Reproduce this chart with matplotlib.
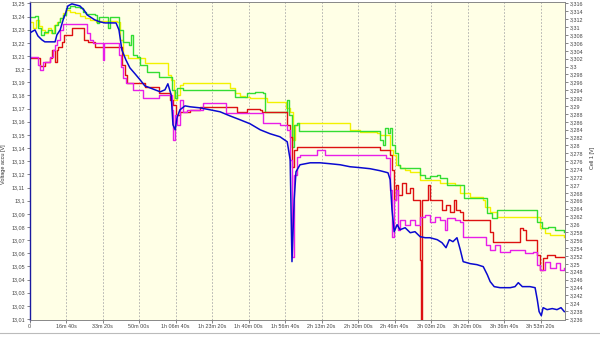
import matplotlib
matplotlib.use("Agg")
import matplotlib.pyplot as plt
from matplotlib.ticker import FixedLocator, FuncFormatter
import numpy as np

plt.rcParams["font.family"] = ["Liberation Sans", "DejaVu Sans"]

# ---- data (time in seconds, voltages in V) ----
accu_t = [10,150,230,340,420,560,700,750,840,920,1000,1050,1160,1270,1380,1490,1580,1660,1790,1930,
          2070,2210,2370,2450,2530,2640,2750,2890,3030,3160,3300,3440,3580,3710,3790,3880,3930,3990,4040,4120,
          4260,4400,4670,4950,5220,5490,5770,6040,6320,6590,6860,7060,7140,7190,7250,7300,7410,7690,7960,8230,
          8510,8780,9060,9330,9600,9820,9880,9930,9990,10070,10150,10290,10430,10560,10700,10840,10970,11170,11300,11410,
          11500,11600,11710,11800,11880,12070,12260,12430,12540,12620,12730,12890,13170,13300,13390,13500,13710,13850,13910,13960,
          14020,14070,14180,14320,14450,14560,14650]
accu_v = [13.2276,13.2299,13.2253,13.2223,13.2208,13.2208,13.2208,13.2261,13.2299,13.2375,13.2436,13.2481,13.2497,13.2489,13.2481,13.2451,13.2413,13.2398,13.2375,13.2360,
          13.2352,13.2352,13.2352,13.2299,13.2147,13.2071,13.2010,13.1965,13.1919,13.1873,13.1858,13.1843,13.1828,13.1843,13.1889,13.1805,13.1577,13.1539,13.1630,13.1691,
          13.1721,13.1714,13.1706,13.1691,13.1676,13.1645,13.1615,13.1585,13.1539,13.1509,13.1486,13.1448,13.1311,13.0536,13.1007,13.1220,13.1273,13.1288,13.1288,13.1281,
          13.1273,13.1258,13.1251,13.1243,13.1228,13.1212,13.1159,13.0931,13.0764,13.0817,13.0779,13.0794,13.0756,13.0764,13.0726,13.0718,13.0718,13.0703,13.0680,13.0642,
          13.0703,13.0688,13.0718,13.0627,13.0536,13.0521,13.0513,13.0498,13.0437,13.0384,13.0346,13.0338,13.0338,13.0346,13.0376,13.0346,13.0346,13.0338,13.0247,13.0156,
          13.0125,13.0186,13.0171,13.0179,13.0171,13.0186,13.0156]

yellow_t = [10,100,180,260,340,420,510,590,670,750,840,920,1000,1110,1250,1380,1520,1660,1820,1930,
            2400,2480,2560,2700,3110,3160,3740,3790,3880,3960,4040,4120,4210,5380,5490,5630,5770,5900,6040,6450,
            6510,6950,7030,7140,7220,7280,7360,8700,8780,9060,9520,9600,9820,9880,9960,10040,10150,10290,10430,10700,
            11170,11250,11660,11800,12070,12430,12480,12620,12810,13910,13990,14120,14260,14650]
yellow_v = [3.3113,3.3098,3.3118,3.3103,3.3093,3.3085,3.3098,3.3085,3.3106,3.3113,3.3123,3.3136,3.3144,3.3138,3.3136,3.3128,3.3123,3.3118,3.3113,3.3116,
            3.3113,3.3068,3.3029,3.3022,3.3022,3.3009,3.3009,3.2979,3.2966,3.2915,3.2928,3.2953,3.2958,3.2958,3.2946,3.2933,3.2925,3.2923,3.2920,3.2920,
            3.2910,3.2910,3.2895,3.2885,3.2814,3.2852,3.2857,3.2857,3.2839,3.2834,3.2832,3.2827,3.2827,3.2789,3.2776,3.2751,3.2743,3.2738,3.2733,3.2712,
            3.2712,3.2705,3.2700,3.2680,3.2669,3.2662,3.2644,3.2631,3.2619,3.2619,3.2591,3.2578,3.2573,3.2568]

green_t = [10,150,230,320,400,510,620,700,780,840,920,1000,1110,1250,1380,1470,1550,1790,1850,1900,
           2100,2150,2210,2400,2450,2560,2670,2730,2780,2840,2950,3030,3160,3220,3490,3550,3850,3900,3990,4040,
           4210,5580,5630,5900,5960,6180,6400,6450,7000,7060,7110,7190,7250,7330,7380,9520,9600,9690,9740,9820,
           9880,9930,10010,10100,10150,10430,10700,10840,10970,11170,11250,11440,11850,11910,12430,12540,12670,12810,13800,13910,
           14040,14210,14400,14650]
green_v = [3.3126,3.3128,3.3098,3.3080,3.3088,3.3093,3.3085,3.3106,3.3113,3.3123,3.3131,3.3149,3.3154,3.3151,3.3149,3.3138,3.3133,3.3131,3.3111,3.3126,
           3.3126,3.3098,3.3126,3.3126,3.3093,3.3062,3.3062,3.3055,3.3080,3.3029,3.3024,3.3004,3.3004,3.2986,3.2986,3.2974,3.2974,3.2941,3.2920,3.2946,
           3.2941,3.2941,3.2923,3.2923,3.2933,3.2936,3.2933,3.2885,3.2885,3.2915,3.2877,3.2796,3.2852,3.2857,3.2837,3.2837,3.2814,3.2801,3.2844,3.2832,
           3.2844,3.2801,3.2781,3.2751,3.2743,3.2743,3.2725,3.2718,3.2723,3.2725,3.2718,3.2700,3.2700,3.2667,3.2667,3.2629,3.2616,3.2636,3.2636,3.2606,
           3.2591,3.2593,3.2586,3.2581]

red_t = [10,210,290,420,560,620,700,750,780,890,950,1110,1160,1440,1490,1600,1770,1790,2480,2530,
         2620,2670,3110,3160,3490,3550,3770,3850,3930,4010,4120,4400,4670,5580,5690,5900,5960,6320,6370,6950,
         7060,7140,7190,7250,7330,9520,9600,9820,9880,9930,9990,10040,10100,10210,10320,10430,10510,10670,10700,10730,
         10750,10840,10920,10970,11250,11300,11410,11520,11630,11690,11800,11880,12560,12620,12700,12810,13300,13440,13520,13600,
         13800,13910,13990,14070,14180,14400,14650]
red_v = [3.3022,3.3022,3.3002,3.3012,3.3022,3.3042,3.3012,3.3042,3.3050,3.3062,3.3080,3.3080,3.3098,3.3098,3.3068,3.3062,3.3062,3.3050,3.3050,3.3004,
         3.2979,3.2958,3.2958,3.2948,3.2948,3.2933,3.2933,3.2915,3.2903,3.2877,3.2885,3.2890,3.2898,3.2898,3.2885,3.2885,3.2893,3.2890,3.2885,3.2885,
         3.2852,3.2822,3.2745,3.2789,3.2796,3.2796,3.2789,3.2789,3.2776,3.2738,3.2662,3.2700,3.2674,3.2705,3.2680,3.2692,3.2662,3.2662,3.2510,3.2332,
         3.2662,3.2662,3.2700,3.2662,3.2662,3.2636,3.2649,3.2631,3.2662,3.2636,3.2631,3.2611,3.2611,3.2581,3.2555,3.2555,3.2555,3.2591,3.2586,3.2560,
         3.2560,3.2522,3.2484,3.2515,3.2522,3.2517,3.2517]

magenta_t = [10,210,230,290,370,510,560,640,700,750,840,920,1520,1580,1660,1740,1990,2010,2040,2400,
             2450,2510,2560,2640,2840,3110,3490,3550,3850,3900,3930,3990,4040,4120,4210,4320,4670,4750,5300,5380,
             6320,6400,6780,6860,7060,7140,7190,7250,7330,7410,7820,7880,8040,8100,9690,9770,9820,9880,9930,9990,
             10040,10100,10150,10290,10430,10560,10700,10840,10970,11110,11250,11390,11440,11660,11800,11880,12430,12510,12620,12750,
             12890,13170,13440,13580,13800,13910,13990,14120,14260,14430,14540,14650]
magenta_v = [3.3024,3.3024,3.3004,3.2991,3.3012,3.3012,3.3024,3.3042,3.3055,3.3068,3.3093,3.3108,3.3108,3.3085,3.3068,3.3060,3.3060,3.3017,3.3060,3.3060,
             3.3029,3.2999,3.2971,3.2958,3.2941,3.2920,3.2920,3.2928,3.2928,3.2890,3.2814,3.2877,3.2852,3.2915,3.2885,3.2890,3.2890,3.2908,3.2908,3.2882,
             3.2882,3.2857,3.2857,3.2852,3.2839,3.2763,3.2517,3.2725,3.2771,3.2776,3.2776,3.2789,3.2789,3.2776,3.2776,3.2768,3.2768,3.2687,3.2568,3.2662,
             3.2687,3.2586,3.2611,3.2598,3.2611,3.2598,3.2619,3.2624,3.2606,3.2619,3.2611,3.2586,3.2616,3.2611,3.2606,3.2568,3.2568,3.2548,3.2535,3.2548,
             3.2530,3.2535,3.2535,3.2527,3.2530,3.2497,3.2484,3.2505,3.2489,3.2502,3.2484,3.2489]

x_ticks = [0,1000,2000,3000,4000,5000,6000,7000,8000,9000,10000,11000,12000,13000,14000]
left_ticks = [13.01,13.02,13.03,13.04,13.05,13.06,13.07,13.08,13.09,13.1,13.11,13.12,13.13,
              13.14,13.15,13.16,13.17,13.18,13.19,13.2,13.21,13.22,13.23,13.24,13.25]
right_ticks = [3.236,3.238,3.24,3.242,3.244,3.246,3.248,3.25,3.252,3.254,3.256,3.258,3.26,3.262,
               3.264,3.266,3.268,3.27,3.272,3.274,3.276,3.278,3.28,3.282,3.284,3.286,3.288,3.29,
               3.292,3.294,3.296,3.298,3.3,3.302,3.304,3.306,3.308,3.31,3.312,3.314,3.316]

# ---- figure ----
fig = plt.figure(figsize=(6.0, 3.37), dpi=100)
ax2 = fig.add_axes([0.0492, 0.0504, 0.8925, 0.9436])
ax = ax2.twinx()
ax.yaxis.tick_left(); ax.yaxis.set_label_position("left")
ax2.yaxis.tick_right(); ax2.yaxis.set_label_position("right")
ax2.set_facecolor("#ffffe6")
ax.patch.set_visible(False)

for t, v, c in [(yellow_t, yellow_v, "#f2f200"), (green_t, green_v, "#33dd33"),
                (red_t, red_v, "#dd1111"), (magenta_t, magenta_v, "#e81ee8")]:
    ax2.plot(t, v, color=c, lw=1.0, drawstyle="steps-post")
ax.plot(accu_t, accu_v, color="#0a0ad0", lw=1.1)

ax.set_xlim(0, 14670)
ax.set_ylim(13.0092, 13.2511)
ax2.set_ylim(3.23575, 3.31637)

def fmt_time(s, pos=None):
    s = int(round(s))
    if s == 0:
        return "0"
    h, r = divmod(s, 3600)
    m, sec = divmod(r, 60)
    if h:
        return f"{h}h {m:02d}m {sec:02d}s"
    return f"{m}m {sec:02d}s"

def fmt_comma(v, pos=None):
    return f"{v:.3f}".rstrip("0").rstrip(".").replace(".", ",")

ax2.xaxis.set_major_locator(FixedLocator(x_ticks))
ax2.xaxis.set_major_formatter(FuncFormatter(fmt_time))
ax.yaxis.set_major_locator(FixedLocator(left_ticks))
ax.yaxis.set_major_formatter(FuncFormatter(fmt_comma))
ax2.yaxis.set_major_locator(FixedLocator(right_ticks))
ax2.yaxis.set_major_formatter(FuncFormatter(fmt_comma))

for a in (ax, ax2):
    a.tick_params(labelsize=3.9, labelcolor="#444444", length=2, width=0.5, color="#555555", pad=1.2)
ax2.xaxis.grid(True, linestyle=(0, (2, 2)), color="#aaaaaa", lw=0.6)

ax.set_ylabel("Voltage accu [V]", fontsize=4.0, color="#333333")
ax.yaxis.set_label_coords(-0.044, 0.49)
ax2.set_ylabel("Cell 1 [V]", fontsize=4.0, color="#333333", rotation=90)
ax2.yaxis.set_label_coords(1.047, 0.51)

for a in (ax, ax2):
    for k, sp in a.spines.items():
        sp.set_color("#888888"); sp.set_linewidth(0.6)
ax.spines["left"].set_color("#1a1aa0"); ax.spines["left"].set_linewidth(1.0)

fig.add_artist(plt.Line2D([0, 1], [0.012, 0.012], color="#bbbbbb", lw=0.8))
fig.savefig("out.png", dpi=100, facecolor="white")
